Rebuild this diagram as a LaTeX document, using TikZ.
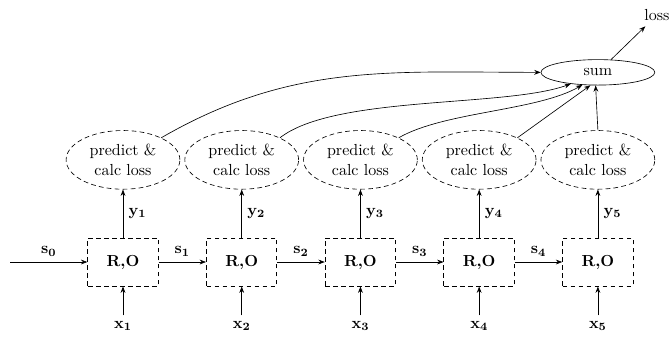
\documentclass[tikz,border=0pt]{standalone}
\usepackage{amsmath,amssymb}
\usepackage{tikz}
\usetikzlibrary{shapes.geometric, arrows.meta, positioning}
\tikzset{
  cell/.style={rectangle, draw=black, densely dashed, semithick,
               minimum width=44pt, minimum height=30pt, font=\bfseries},
  predloss/.style={ellipse, draw=black, densely dashed, minimum width=2.5cm,
                   minimum height=36pt, align=center},
  sumnode/.style={ellipse, draw=black, minimum width=2.5cm},
  arrow/.style={-{Stealth[length=4pt]}, draw=black},
}

\begin{document}
\begin{tikzpicture}[
  x=0.625pt, y=0.625pt,
  node distance=29.6pt,
]
  \useasboundingbox (0,0) rectangle (669,-337);

  \node[cell] (c1) at (123,-262) {R,O};
  \node[cell, right=of c1] (c2) {R,O};
  \node[cell, right=of c2] (c3) {R,O};
  \node[cell, right=of c3] (c4) {R,O};
  \node[cell, right=of c4] (c5) {R,O};

  \node[predloss, above=30pt of c1] (p1) {predict \&\\calc loss};
  \node[predloss, above=30pt of c2] (p2) {predict \&\\calc loss};
  \node[predloss, above=30pt of c3] (p3) {predict \&\\calc loss};
  \node[predloss, above=30pt of c4] (p4) {predict \&\\calc loss};
  \node[predloss, above=30pt of c5] (p5) {predict \&\\calc loss};

  \node[below=18pt of c1] (x1) {$\mathbf{x_1}$};
  \node[below=18pt of c2] (x2) {$\mathbf{x_2}$};
  \node[below=18pt of c3] (x3) {$\mathbf{x_3}$};
  \node[below=18pt of c4] (x4) {$\mathbf{x_4}$};
  \node[below=18pt of c5] (x5) {$\mathbf{x_5}$};

  \node[sumnode, above=28pt of p5] (sum) {sum};
  \node (loss) at (657,-15) {loss};
  \coordinate (s0) at (10,-262);

  \draw[arrow] (s0) -- node[above] {$\mathbf{s_0}$} (c1);
  \draw[arrow] (c1) -- node[above] {$\mathbf{s_1}$} (c2);
  \draw[arrow] (c2) -- node[above] {$\mathbf{s_2}$} (c3);
  \draw[arrow] (c3) -- node[above] {$\mathbf{s_3}$} (c4);
  \draw[arrow] (c4) -- node[above] {$\mathbf{s_4}$} (c5);

  \draw[arrow] (c1) -- node[right] {$\mathbf{y_1}$} (p1);
  \draw[arrow] (c2) -- node[right] {$\mathbf{y_2}$} (p2);
  \draw[arrow] (c3) -- node[right] {$\mathbf{y_3}$} (p3);
  \draw[arrow] (c4) -- node[right] {$\mathbf{y_4}$} (p4);
  \draw[arrow] (c5) -- node[right] {$\mathbf{y_5}$} (p5);

  \draw[arrow] (x1) -- (c1); \draw[arrow] (x2) -- (c2); \draw[arrow] (x3) -- (c3);
  \draw[arrow] (x4) -- (c4); \draw[arrow] (x5) -- (c5);

  \draw[arrow] (p1.30) to[out=30, in=180] (sum.west);
  \draw[arrow] (p2.30) to[out=38, in=200, looseness=0.6] (sum.203);
  \draw[arrow] (p3.30) to[out=30, in=210, looseness=0.7] (sum.219);
  \draw[arrow] (p4.30) -- (sum.240);
  \draw[arrow] (p5.north) -- (sum.260);
  \draw[arrow] (sum) -- (loss);
\end{tikzpicture}
\end{document}
